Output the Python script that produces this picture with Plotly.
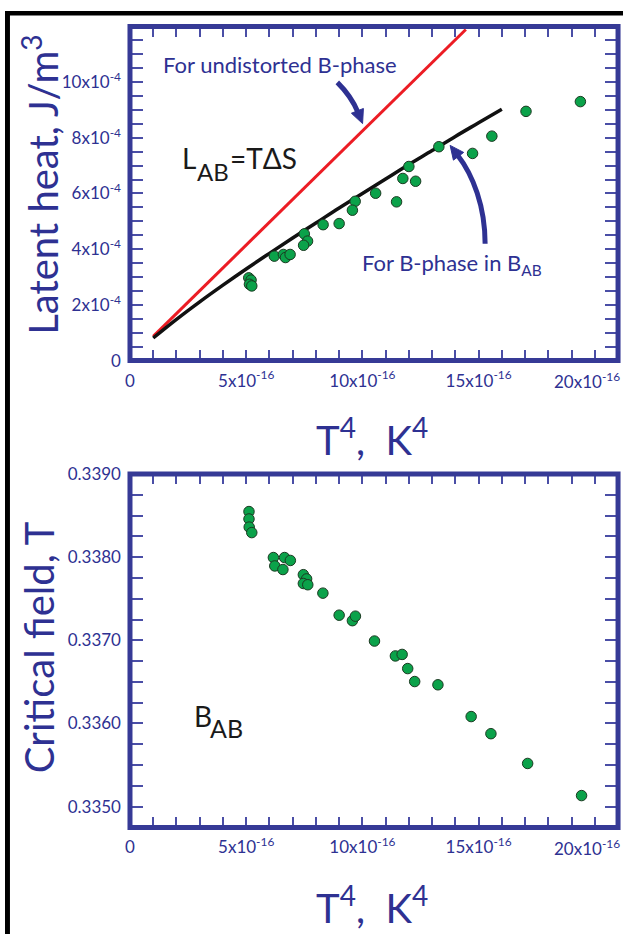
import plotly.graph_objects as go

# ---------------- data ----------------
# Top panel: latent heat vs T^4
lat_T4 = [5.11e-16, 5.21e-16, 5.14e-16, 5.24e-16, 6.21e-16, 6.60e-16, 6.69e-16, 6.89e-16,
          7.50e-16, 7.64e-16, 7.47e-16, 8.31e-16, 9.00e-16, 9.69e-16, 9.57e-16, 10.57e-16,
          11.47e-16, 12.00e-16, 11.74e-16, 12.29e-16, 13.29e-16, 14.74e-16, 15.57e-16,
          17.04e-16, 19.38e-16]
lat_L = [2.97e-4, 2.89e-4, 2.74e-4, 2.68e-4, 3.75e-4, 3.81e-4, 3.70e-4, 3.81e-4,
         4.55e-4, 4.29e-4, 4.14e-4, 4.88e-4, 4.92e-4, 5.72e-4, 5.40e-4, 6.01e-4,
         5.70e-4, 6.97e-4, 6.54e-4, 6.44e-4, 7.68e-4, 7.44e-4, 8.06e-4,
         8.95e-4, 9.30e-4]

# Theory: undistorted B-phase (red) and B-phase in B_AB (black)
red_T4 = [1.0e-16, 14.45e-16]
red_L = [0.87e-4, 11.89e-4]
blk_T4 = [1.0e-16, 2.0e-16, 3.0e-16, 4.0e-16, 5.0e-16, 6.0e-16, 7.0e-16, 8.0e-16,
          9.0e-16, 10.0e-16, 11.0e-16, 12.0e-16, 13.0e-16, 14.0e-16, 15.0e-16, 16.0e-16]
blk_L = [0.81e-4, 1.48e-4, 2.11e-4, 2.71e-4, 3.29e-4, 3.85e-4, 4.40e-4, 4.94e-4,
         5.48e-4, 6.00e-4, 6.52e-4, 7.04e-4, 7.54e-4, 8.05e-4, 8.54e-4, 9.03e-4]

# Bottom panel: critical field B_AB vs T^4
bab_T4 = [5.12e-16, 5.12e-16, 5.13e-16, 5.24e-16, 6.17e-16, 6.23e-16, 6.58e-16, 6.65e-16,
          6.90e-16, 7.46e-16, 7.60e-16, 7.46e-16, 7.65e-16, 8.30e-16, 9.00e-16, 9.57e-16,
          9.70e-16, 10.52e-16, 11.42e-16, 11.71e-16, 11.95e-16, 12.25e-16, 13.25e-16,
          14.68e-16, 15.53e-16, 17.11e-16, 19.43e-16]
bab_B = [0.338548, 0.338459, 0.338361, 0.338295, 0.337995, 0.337894, 0.337851, 0.337995,
         0.337960, 0.337789, 0.337738, 0.337683, 0.337668, 0.337567, 0.337302, 0.337236,
         0.337290, 0.336991, 0.336812, 0.336830, 0.336660, 0.336504, 0.336465,
         0.336083, 0.335877, 0.335519, 0.335133]

# tick labels
x_tickvals = [0, 5e-16, 10e-16, 15e-16, 20e-16]
x_ticktext = ["0", "5x10<sup>-16</sup>", "10x10<sup>-16</sup>", "15x10<sup>-16</sup>", "20x10<sup>-16</sup>"]
lat_tickvals = [0, 2e-4, 4e-4, 6e-4, 8e-4, 10e-4]
lat_ticktext = ["0", "2x10<sup>-4</sup>", "4x10<sup>-4</sup>", "6x10<sup>-4</sup>",
                "8x10<sup>-4</sup>", "10x10<sup>-4</sup>"]
bab_tickvals = [0.3350, 0.3360, 0.3370, 0.3380, 0.3390]
bab_ticktext = ["0.3350", "0.3360", "0.3370", "0.3380", "0.3390"]

# ---------------- styling ----------------
W, H = 623, 944
NAVY = "#2E3192"
FRAME = "#363A96"
TICK = "#4A4EA6"
GREEN = "#0BA24A"
RED = "#EC1C24"
FONT = "Lato"


def fx(p):
    return p / W


def fy(p):
    return 1 - p / H


X_L, X_R = 126, 618
TOP_T, TOP_B = 15.8, 357.5
BOT_T, BOT_B = 473.5, 835

fig = go.Figure()

fig.add_trace(go.Scatter(x=red_T4, y=red_L, mode="lines", line=dict(color=RED, width=3),
                         xaxis="x", yaxis="y", showlegend=False, hoverinfo="skip"))
fig.add_trace(go.Scatter(x=blk_T4, y=blk_L, mode="lines", line=dict(color="#111111", width=3.5, shape="spline"),
                         xaxis="x", yaxis="y", showlegend=False, hoverinfo="skip"))
fig.add_trace(go.Scatter(x=lat_T4, y=lat_L, mode="markers",
                         marker=dict(color=GREEN, size=10.5, line=dict(color="#1c3a22", width=1)),
                         xaxis="x", yaxis="y", showlegend=False))
fig.add_trace(go.Scatter(x=bab_T4, y=bab_B, mode="markers",
                         marker=dict(color=GREEN, size=10.5, line=dict(color="#1c3a22", width=1)),
                         xaxis="x2", yaxis="y2", showlegend=False))

tickfont = dict(family=FONT, size=17, color=NAVY)

# the last x label would spill past the page edge, so the axis shows the
# first four and the fifth is placed as text just inside the edge
axis_ticktext = x_ticktext[:-1] + [""]


def xaxis_cfg(anchor):
    return dict(domain=[fx(X_L), fx(X_R)], range=[0, 21e-16], anchor=anchor,
                tickmode="array", tickvals=x_tickvals, ticktext=axis_ticktext,
                ticks="inside", ticklen=10.5, tickwidth=1.5, tickcolor=TICK,
                mirror="allticks", showline=False, showgrid=False, zeroline=False,
                tickfont=tickfont, ticklabelstandoff=8,
                minor=dict(tick0=0, dtick=1e-16, ticks="inside", ticklen=10.5,
                           tickwidth=1.5, tickcolor=TICK, showgrid=False))


fig.update_layout(
    width=W, height=H,
    margin=dict(l=0, r=0, t=0, b=0),
    paper_bgcolor="white", plot_bgcolor="white",
    showlegend=False,
    xaxis=xaxis_cfg("y"),
    xaxis2=xaxis_cfg("y2"),
    yaxis=dict(domain=[fy(TOP_B), fy(TOP_T)], range=[0, 12e-4], anchor="x",
               tickmode="array", tickvals=lat_tickvals, ticktext=lat_ticktext,
               ticks="inside", ticklen=13.5, tickwidth=1.5, tickcolor=TICK,
               mirror="allticks", showline=False, showgrid=False, zeroline=False,
               tickfont=tickfont, ticklabelstandoff=8,
               minor=dict(tick0=0, dtick=0.5e-4, ticks="inside", ticklen=13.5,
                          tickwidth=1.5, tickcolor=TICK, showgrid=False)),
    yaxis2=dict(domain=[fy(BOT_B), fy(BOT_T)], range=[0.33475, 0.3390], anchor="x2",
                tickmode="array", tickvals=bab_tickvals, ticktext=bab_ticktext,
                ticks="inside", ticklen=13.5, tickwidth=1.5, tickcolor=TICK,
                mirror="allticks", showline=False, showgrid=False, zeroline=False,
                tickfont=tickfont, ticklabelstandoff=8,
                minor=dict(tick0=0.33475, dtick=0.00025, ticks="inside", ticklen=13.5,
                           tickwidth=1.5, tickcolor=TICK, showgrid=False)),
)

shapes = []
# frames
for (t, b) in [(TOP_T, TOP_B), (BOT_T, BOT_B)]:
    shapes.append(dict(type="rect", xref="paper", yref="paper",
                       x0=fx(X_L), x1=fx(X_R), y0=fy(b), y1=fy(t),
                       line=dict(color=FRAME, width=5), fillcolor="rgba(0,0,0,0)", layer="above"))
# black slide edges
shapes.append(dict(type="rect", xref="paper", yref="paper", x0=0, x1=fx(5), y0=0, y1=1,
                   fillcolor="black", line=dict(width=0)))
shapes.append(dict(type="rect", xref="paper", yref="paper", x0=0, x1=1, y0=fy(4.5), y1=1,
                   fillcolor="black", line=dict(width=0)))


def arrow(p0, c1, c2, p3, head_len=14, head_w=13):
    path = "M {},{} C {},{} {},{} {},{}".format(fx(p0[0]), fy(p0[1]), fx(c1[0]), fy(c1[1]),
                                                 fx(c2[0]), fy(c2[1]), fx(p3[0]), fy(p3[1]))
    shapes.append(dict(type="path", xref="paper", yref="paper", path=path,
                       line=dict(color=NAVY, width=5), fillcolor="rgba(0,0,0,0)"))
    dx, dy = p3[0] - c2[0], p3[1] - c2[1]
    n = (dx * dx + dy * dy) ** 0.5
    ux, uy = dx / n, dy / n
    bx, by = p3[0] - 2 * ux, p3[1] - 2 * uy
    tip = (bx + head_len * ux, by + head_len * uy)
    px_, py_ = -uy, ux
    a = (bx + px_ * head_w / 2, by + py_ * head_w / 2)
    c = (bx - px_ * head_w / 2, by - py_ * head_w / 2)
    hp = "M {},{} L {},{} L {},{} Z".format(fx(tip[0]), fy(tip[1]), fx(a[0]), fy(a[1]), fx(c[0]), fy(c[1]))
    shapes.append(dict(type="path", xref="paper", yref="paper", path=hp,
                       line=dict(color=NAVY, width=1), fillcolor=NAVY))


arrow((335, 73), (342, 80), (350, 89), (356, 104))
arrow((484, 238), (484, 200), (472, 168), (456, 147))

fig.update_layout(shapes=shapes)

ann = []


def txt(text, x, y, size, color, xanchor="left", yanchor="middle", angle=0):
    ann.append(dict(text=text, x=fx(x), y=fy(y), xref="paper", yref="paper",
                    xanchor=xanchor, yanchor=yanchor, textangle=angle, showarrow=False,
                    font=dict(family=FONT, size=size, color=color)))


# last x tick label of each panel, kept inside the page
for fb in (TOP_B, BOT_B):
    ann.append(dict(text=x_ticktext[-1], x=fx(622), y=fy(fb + 7), xref="paper", yref="paper",
                    xanchor="right", yanchor="top", showarrow=False, font=tickfont))

txt("For undistorted B-phase", 157, 55, 22, NAVY)
txt("For B-phase in B<sub>AB</sub>", 358, 259, 22, NAVY)
txt("L", 176, 150, 28, "#1a1a1a")
txt("AB", 192, 164, 24, "#1a1a1a")
txt("=TΔS", 225, 150, 28, "#1a1a1a")
txt("B", 189, 721, 28, "#1a1a1a")
txt("AB", 205, 733, 25, "#1a1a1a")

txt("Latent heat, J/m<sup>3</sup>", 36, 178, 40, NAVY, xanchor="center", angle=-90)
txt("Critical field, T", 34, 651, 40, NAVY, xanchor="center", angle=-90)
txt("T<sup>4</sup>,\u00a0\u00a0K<sup>4</sup>", 370, 436, 40, NAVY, xanchor="center")
txt("T<sup>4</sup>,\u00a0\u00a0K<sup>4</sup>", 370, 914, 40, NAVY, xanchor="center")

fig.update_layout(annotations=ann)

fig.write_html("out.html")
